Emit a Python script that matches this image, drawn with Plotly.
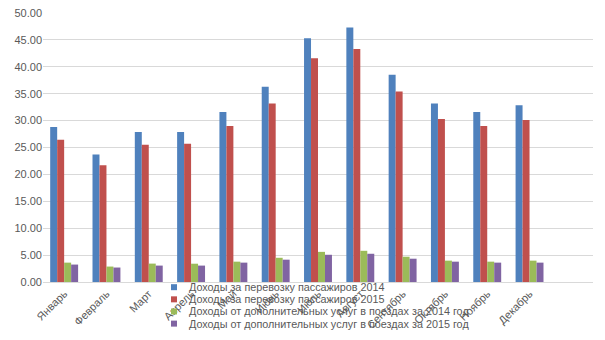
import plotly.graph_objects as go

months = ["Январь", "Февраль", "Март", "Апрель", "Май", "Июнь",
          "Июль", "Август", "Сентябрь", "Октябрь", "Ноябрь", "Декабрь"]

series_names = [
    "Доходы за перевозку пассажиров 2014",
    "Доходы за перевозку пассажиров 2015",
    "Доходы от дополнительных услуг в поездах за 2014 год",
    "Доходы от дополнительных услуг в поездах за 2015 год",
]

transport_2014 = [28.8, 23.7, 27.9, 27.9, 31.6, 36.3, 45.3, 47.3, 38.5, 33.2, 31.6, 32.85]
transport_2015 = [26.45, 21.7, 25.5, 25.7, 29.0, 33.2, 41.6, 43.3, 35.4, 30.3, 29.0, 30.1]
services_2014 = [3.6, 2.87, 3.42, 3.4, 3.78, 4.5, 5.6, 5.8, 4.7, 3.97, 3.78, 3.97]
services_2015 = [3.24, 2.69, 3.05, 3.05, 3.6, 4.15, 5.06, 5.25, 4.33, 3.78, 3.6, 3.6]

y_ticks = [0, 5, 10, 15, 20, 25, 30, 35, 40, 45, 50]

colors = ["#4F81BD", "#C0504D", "#9BBB59", "#8064A2"]
values = [transport_2014, transport_2015, services_2014, services_2015]

FONT = "Liberation Sans, Arial, sans-serif"
GREY = "#595959"

fig = go.Figure()
for name, vals, col in zip(series_names, values, colors):
    fig.add_trace(go.Bar(
        x=list(range(len(months))), y=vals, name=name,
        marker=dict(color=col, line=dict(width=0)),
        showlegend=False,
    ))

# compact legend drawn below the axis, overlapping the tick labels
shapes = []
annotations = []
row_step = 12.4 / 274.7
for i, (name, col) in enumerate(zip(series_names, colors)):
    yc = -0.0193 - i * row_step
    shapes.append(dict(
        type="rect", xref="paper", yref="paper",
        xsizemode="pixel", ysizemode="pixel",
        xanchor=(174 - 43) / 550, yanchor=yc,
        x0=-3, x1=3, y0=-3, y1=3,
        fillcolor=col, line=dict(width=0), layer="above",
    ))
    annotations.append(dict(
        xref="paper", yref="paper", x=(187 - 43) / 550, y=yc,
        xanchor="left", yanchor="middle", showarrow=False,
        text=name, font=dict(family=FONT, size=10.8, color=GREY),
    ))

fig.update_layout(
    width=605, height=340,
    margin=dict(l=43, r=12, t=7, b=58),
    paper_bgcolor="white", plot_bgcolor="white",
    barmode="group", bargap=0.34, bargroupgap=0,
    shapes=shapes, annotations=annotations,
    xaxis=dict(
        range=[-0.5, 12.5],
        tickmode="array", tickvals=list(range(len(months))), ticktext=months,
        tickangle=-45, ticks="", showgrid=False,
        showline=True, linecolor="#D9D9D9", linewidth=1,
        tickfont=dict(family=FONT, size=11, color=GREY),
    ),
    yaxis=dict(
        range=[0, 50], tickmode="array", tickvals=y_ticks,
        tickformat=".2f", ticks="", showline=False,
        showgrid=True, gridcolor="#D9D9D9", gridwidth=1,
        zeroline=False,
        tickfont=dict(family=FONT, size=11, color=GREY),
    ),
)

fig.write_html("out.html")
